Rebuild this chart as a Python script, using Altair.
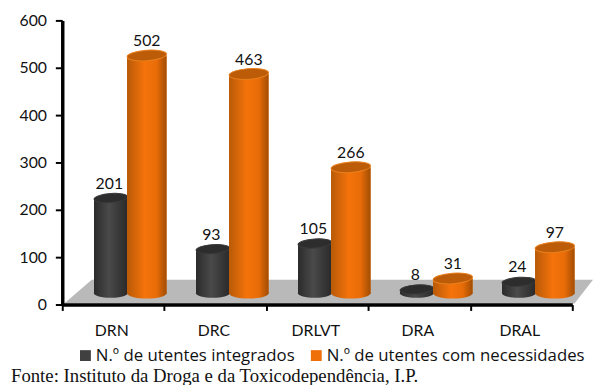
import altair as alt
import pandas as pd

categories = ["DRN", "DRC", "DRLVT", "DRA", "DRAL"]
integrados = [201, 93, 105, 8, 24]
necessidades = [502, 463, 266, 31, 97]
s1 = "N.º de utentes integrados"
s2 = "N.º de utentes com necessidades"
source = "Fonte: Instituto da Droga e da Toxicodependência, I.P."

df = pd.DataFrame({
    "cat": categories * 2,
    "series": [s1] * 5 + [s2] * 5,
    "value": integrados + necessidades,
})

FONT = "Lato"
BASE = -11.5
x = alt.X("cat:N", sort=categories, title=None,
          scale=alt.Scale(paddingInner=0, paddingOuter=0),
          axis=alt.Axis(labelAngle=0, labelFont=FONT, labelFontSize=16, labelColor="#111",
                        domainColor="#000", domainWidth=3.5, tickColor="#000", tickWidth=2,
                        tickSize=6, tickBand="extent", labelPadding=12, labelOffset=-2,
                        grid=False, zindex=1))
y = alt.Y("value:Q", title=None, stack=None, scale=alt.Scale(domain=[0, 600], nice=False),
          axis=alt.Axis(values=[0, 100, 200, 300, 400, 500, 600], labelFont=FONT, labelFontSize=16,
                        labelColor="#111", domainColor="#000", domainWidth=3.5, tickColor="#000",
                        tickWidth=2, tickSize=7, labelPadding=9, grid=False, zindex=1))
color = alt.Color("series:N", sort=[s1, s2], title=None,
                  scale=alt.Scale(domain=[s1, s2], range=["#404040", "#ef7009"]),
                  legend=alt.Legend(orient="none", legendX=15, legendY=331, direction="horizontal",
                                    symbolType="square", symbolSize=121, symbolStrokeWidth=0,
                                    labelFont="Open Sans", labelFontSize=17, labelColor="#111",
                                    labelLimit=400, columnPadding=13, symbolOffset=0, labelOffset=2))


def grad(stops):
    return alt.Gradient(gradient="linear", x1=0, x2=1, y1=0, y2=0,
                        stops=[alt.GradientStop(offset=o, color=c) for o, c in stops])


ELLIPSE = "M-1,0 A1,0.27,0,1,1,1,0 A1,0.27,0,1,1,-1,0 Z"
FLOOR = "M-1,0.0448 L-0.896,-0.0448 L1,-0.0448 L0.93,0.0448 Z"

floor = alt.Chart(pd.DataFrame({"k": [0]})).mark_point(
    shape=FLOOR, filled=True, opacity=1, color="#b9b9b9", strokeWidth=0, size=(268 * 2) ** 2
).encode(x=alt.value(270), y=alt.value(275))

dark_g = grad([(0, "#2b2b2b"), (0.45, "#4a4a4a"), (1, "#2a2a2a")])
orange_g = grad([(0, "#b85a08"), (0.45, "#f5730a"), (0.75, "#e86c08"), (1, "#a14d04")])

layers = [floor]
for name, off, w, g, cap in [(s1, -2.5, 34, dark_g, "#2d2d2d"), (s2, 34, 40, orange_g, "#bc5c08")]:
    d = df[df.series == name]
    base = alt.Chart(d)
    layers.append(base.mark_bar(xOffset=off, size=w, yOffset=BASE, y2Offset=BASE).encode(
        x=x, y=y, y2=alt.Y2(datum=0), color=color))
    layers.append(base.mark_bar(xOffset=off, size=w, yOffset=BASE, y2Offset=BASE, color=g).encode(
        x=x, y=y, y2=alt.Y2(datum=0)))
    layers.append(base.mark_point(shape=ELLIPSE, filled=True, opacity=1, strokeWidth=0, color=g,
                                  size=w ** 2, xOffset=off, yOffset=BASE).encode(
        x=x, y=alt.Y(datum=0, scale=alt.Scale(domain=[0, 600], nice=False))))
    layers.append(base.mark_point(shape=ELLIPSE, filled=True, opacity=1, color=cap, angle=356,
                                  strokeWidth=1, stroke="#e8801e" if name == s2 else "#3a3a3a",
                                  size=w ** 2, xOffset=off, yOffset=BASE).encode(x=x, y=y))
    layers.append(base.mark_text(font=FONT, fontSize=16, color="#111", baseline="middle",
                                 dy=-26, dx=-4 if name == s1 else 34).encode(
        x=x, y=y, text="value:Q"))

layers.append(alt.Chart(pd.DataFrame({"t": [source]})).mark_text(
    font="Liberation Serif", fontSize=19, color="#111", align="left", baseline="alphabetic"
).encode(x=alt.value(-52), y=alt.value(367), text="t:N"))

chart = alt.layer(*layers).properties(
    width=517, height=288,
    padding={"left": 55, "top": 10, "right": 21, "bottom": 79},
    autosize=alt.AutoSizeParams(type="none"),
    background="white",
).configure_view(stroke=None)

chart.save("out.html", embed_options={"renderer": "svg", "actions": False})
